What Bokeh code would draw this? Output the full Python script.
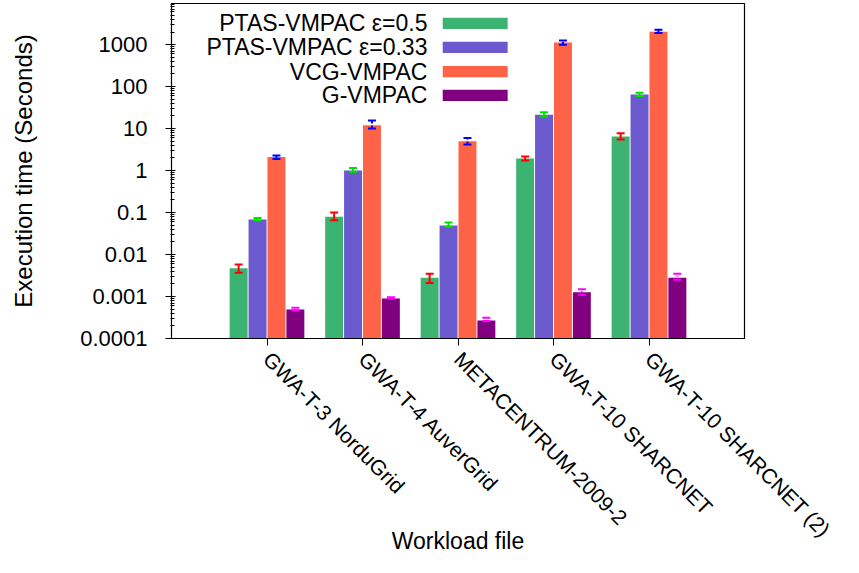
import math
from bokeh.plotting import figure
from bokeh.models import (ColumnDataSource, FixedTicker, PrintfTickFormatter,
                          Range1d, Whisker, TeeHead)
from bokeh.core.properties import value
from bokeh.embed import file_html
from bokeh.resources import INLINE

# ---------------- data ----------------
workloads = ["GWA-T-3 NorduGrid", "GWA-T-4 AuverGrid", "METACENTRUM-2009-2",
             "GWA-T-10 SHARCNET", "GWA-T-10 SHARCNET (2)"]
series = ["PTAS-VMPAC \u03b5=0.5", "PTAS-VMPAC \u03b5=0.33", "VCG-VMPAC", "G-VMPAC"]

ptas05 = [0.0047, 0.080, 0.0028, 1.94, 6.5]
ptas05_lo = [0.0037, 0.066, 0.0021, 1.75, 5.5]
ptas05_hi = [0.0058, 0.100, 0.0035, 2.15, 7.7]

ptas033 = [0.068, 1.0, 0.049, 21.5, 64.6]
ptas033_lo = [0.065, 0.92, 0.046, 19.5, 60.0]
ptas033_hi = [0.074, 1.15, 0.058, 24.5, 71.0]

vcg = [2.1, 12.0, 5.0, 1120.0, 2040.0]
vcg_lo = [1.9, 10.0, 4.2, 1000.0, 1900.0]
vcg_hi = [2.3, 15.5, 6.0, 1260.0, 2250.0]

gv = [0.00049, 0.00090, 0.00027, 0.00126, 0.0028]
gv_lo = [0.00047, 0.00088, 0.00026, 0.00110, 0.0025]
gv_hi = [0.00054, 0.00096, 0.00031, 0.00150, 0.0035]

y_ticks = [0.0001, 0.001, 0.01, 0.1, 1, 10, 100, 1000]

bar_colors = ["#3cb371", "#6a5acd", "#ff6347", "#800080"]
err_colors = ["#ff0000", "#00e000", "#0000ff", "#ff00ff"]
err_dash = ["solid", "solid", "3 2", "1 2"]

group_pos = [1, 2, 3, 4, 5]
offsets = [-0.297, -0.099, 0.099, 0.297]
bar_w = 0.188

FONT = "Liberation Sans"
Y_LOG_MIN = -4.0
Y_LOG_MAX = 3.98

p = figure(width=843, height=557, y_axis_type="log",
           x_range=Range1d(0, 6), y_range=Range1d(10 ** Y_LOG_MIN, 10 ** Y_LOG_MAX),
           output_backend="svg", toolbar_location=None,
           min_border_left=171, min_border_right=99,
           min_border_top=3, min_border_bottom=10)

p.background_fill_color = "white"
p.border_fill_color = "white"
p.outline_line_color = "black"
p.outline_line_width = 1.2
p.xgrid.visible = False
p.ygrid.visible = False

all_vals = [ptas05, ptas033, vcg, gv]
all_lo = [ptas05_lo, ptas033_lo, vcg_lo, gv_lo]
all_hi = [ptas05_hi, ptas033_hi, vcg_hi, gv_hi]

for i in range(4):
    xs = [g + offsets[i] for g in group_pos]
    src = ColumnDataSource(dict(x=xs, top=all_vals[i], lo=all_lo[i], hi=all_hi[i]))
    p.vbar(x="x", top="top", bottom=10 ** Y_LOG_MIN, width=bar_w, source=src,
           fill_color=bar_colors[i], line_color=None)
    w = Whisker(source=src, base="x", upper="hi", lower="lo",
                line_color=err_colors[i], line_width=2, line_dash=err_dash[i],
                upper_head=TeeHead(size=8, line_color=err_colors[i], line_width=2),
                lower_head=TeeHead(size=8, line_color=err_colors[i], line_width=2),
                level="overlay")
    p.add_layout(w)

# ---------------- legend (label left, swatch right) ----------------
leg_rows = [3.504, 2.932, 2.360, 1.789]
leg_half = 0.134
p.text(x=[2.68] * 4, y=[10 ** r for r in leg_rows], text=series,
       text_align="right", text_baseline="middle",
       text_font=value(FONT), text_font_size="23px", text_color="black")
p.quad(left=[2.84] * 4, right=[3.52] * 4,
       top=[10 ** (r + leg_half) for r in leg_rows],
       bottom=[10 ** (r - leg_half) for r in leg_rows],
       fill_color=bar_colors, line_color=None)

# ---------------- y axis ----------------
ym = [m * t for t in y_ticks for m in range(2, 10)]
p.yaxis.ticker = FixedTicker(ticks=y_ticks, minor_ticks=ym)
p.yaxis.formatter = PrintfTickFormatter(format="%g")
p.yaxis.major_tick_in = 4
p.yaxis.major_tick_out = 6
p.yaxis.minor_tick_in = 3
p.yaxis.minor_tick_out = 1
p.yaxis.major_label_standoff = 18
p.yaxis.axis_label = "Execution time (Seconds)"
p.yaxis.axis_label_standoff = 40
p.yaxis.major_label_text_font_size = "22px"
p.yaxis.axis_label_text_font_size = "24px"

# ---------------- x axis ----------------
p.xaxis.ticker = FixedTicker(ticks=group_pos)
p.xaxis.major_label_overrides = {g: n for g, n in zip(group_pos, workloads)}
p.xaxis.major_label_orientation = -math.pi / 4
p.xaxis.minor_tick_line_color = None
p.xaxis.major_tick_in = 0
p.xaxis.major_tick_out = 7
p.xaxis.major_label_standoff = 10
p.xaxis.major_label_text_font_size = "21px"
p.xaxis.axis_label = "Workload file"
p.xaxis.axis_label_standoff = -24
p.xaxis.axis_label_text_font_size = "23px"

for ax in (p.xaxis[0], p.yaxis[0]):
    ax.axis_line_color = "black"
    ax.major_tick_line_color = "black"
    ax.major_label_text_font = FONT
    ax.major_label_text_color = "black"
    ax.axis_label_text_font = FONT
    ax.axis_label_text_font_style = "normal"
    ax.axis_label_text_color = "black"
p.yaxis.minor_tick_line_color = "black"

open("out.html", "w").write(file_html(p, INLINE))
